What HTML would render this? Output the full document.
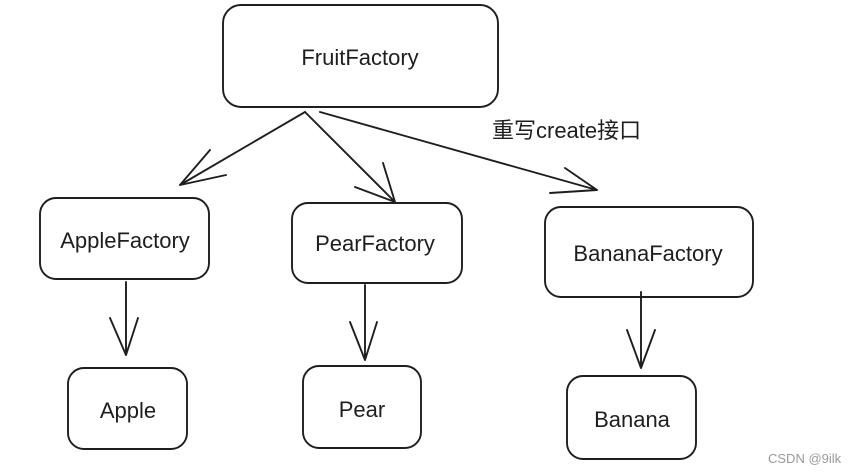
<!DOCTYPE html>
<html><head><meta charset="utf-8"><style>
html,body{margin:0;padding:0;background:#fff;}
svg{display:block}
text{font-family:"Liberation Sans","Noto Sans CJK SC",sans-serif;fill:#1e1e1e;}
</style></head><body>
<svg width="860" height="473" viewBox="0 0 860 473">
<g fill="none" stroke="#1e1e1e" stroke-width="1.9" stroke-linecap="round">
<rect x="223" y="5" width="275" height="102" rx="18"/>
<rect x="40" y="198" width="169" height="81" rx="16"/>
<rect x="292" y="203" width="170" height="80" rx="16"/>
<rect x="545" y="207" width="208" height="90" rx="16"/>
<rect x="68" y="368" width="119" height="81" rx="16"/>
<rect x="303" y="366" width="118" height="82" rx="16"/>
<rect x="567" y="376" width="129" height="83" rx="16"/>
<path d="M305 112 L180 185 M180 185 L210 150 M180 185 L226 175"/>
<path d="M305 112 L395 202 M395 202 L383 163 M395 202 L355 187"/>
<path d="M320 112 L597 190 M597 190 L565 168 M597 190 L550 193"/>
<path d="M126 282 L126 355 M126 355 L110 318 M126 355 L138 318"/>
<path d="M365 285 L365 360 M365 360 L350 322 M365 360 L377 322"/>
<path d="M641 292 L641 368 M641 368 L627 330 M641 368 L655 330"/>
</g>
<g font-size="22" text-anchor="middle">
<text x="360" y="65">FruitFactory</text>
<text x="125" y="248">AppleFactory</text>
<text x="375" y="251">PearFactory</text>
<text x="648" y="261">BananaFactory</text>
<text x="128" y="418">Apple</text>
<text x="362" y="417">Pear</text>
<text x="632" y="427">Banana</text>
</g>
<text x="492" y="138" font-size="22">重写create接口</text>
<text x="768" y="463" font-size="13" style="fill:#999">CSDN @9ilk</text>
</svg>
</body></html>
